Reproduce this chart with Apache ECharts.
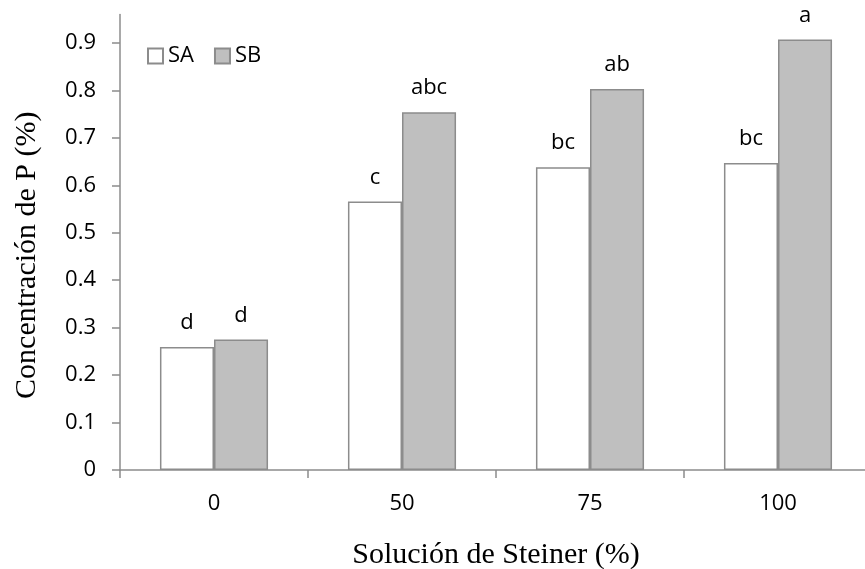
<!DOCTYPE html>
<html>
<head>
<meta charset="utf-8">
<script src="https://cdn.jsdelivr.net/npm/echarts@6/dist/echarts.min.js"></script>
<style>html,body{margin:0;padding:0;background:#fff;}#c{width:865px;height:569px;}</style>
</head>
<body>
<div id="c"></div>
<script>
const categories = ['0', '50', '75', '100'];
const saValues = [0.259, 0.566, 0.638, 0.647];
const sbValues = [0.275, 0.754, 0.803, 0.907];
const saLetters = ['d', 'c', 'bc', 'bc'];
const sbLetters = ['d', 'abc', 'ab', 'a'];
const yTicks = [0, 0.1, 0.2, 0.3, 0.4, 0.5, 0.6, 0.7, 0.8, 0.9];

const chart = echarts.init(document.getElementById('c'), null, {renderer: 'canvas'});
const axisColor = '#8c8c8c';
const labelFont = 'Open Sans';
const fs = 22;

function mk(name, vals, letters, fill) {
  return {
    name: name,
    type: 'bar',
    data: vals.map((v, i) => ({value: v, label: {formatter: letters[i]}})),
    barGap: '0%',
    barCategoryGap: '42.5%',
    itemStyle: {color: fill, borderColor: axisColor, borderWidth: 1.5},
    label: {show: true, position: 'top', distance: 13, color: '#000', fontSize: fs, fontFamily: labelFont},
    emphasis: {disabled: true},
    animation: false
  };
}

chart.setOption({
  animation: false,
  grid: {left: 120, top: 14.4, width: 752, bottom: 99, containLabel: false, outerBoundsMode: 'none'},
  legend: {
    left: 147, top: 45, padding: 0, itemWidth: 15, itemHeight: 15, itemGap: 20, icon: 'rect',
    textStyle: {fontSize: fs, fontFamily: labelFont, color: '#000'},
    data: ['SA', 'SB']
  },
  xAxis: {
    type: 'category',
    data: categories,
    name: 'Solución de Steiner (%)',
    nameLocation: 'middle',
    nameGap: 70,
    nameTextStyle: {fontFamily: 'Liberation Serif', fontSize: 30, color: '#000'},
    axisLine: {lineStyle: {color: axisColor, width: 1.5}},
    axisTick: {show: true, length: 8, inside: false, alignWithLabel: false, lineStyle: {color: axisColor, width: 1.5}},
    axisLabel: {margin: 23, fontSize: fs, fontFamily: labelFont, color: '#000'}
  },
  yAxis: {
    type: 'value',
    min: 0,
    max: 0.96,
    interval: 0.1,
    name: 'Concentración de P (%)',
    nameLocation: 'middle',
    nameGap: 78,
    nameTextStyle: {fontFamily: 'Liberation Serif', fontSize: 30, color: '#000', padding: [0, 26, 0, 0]},
    splitLine: {show: false},
    axisLine: {show: true, lineStyle: {color: axisColor, width: 1.5}},
    axisTick: {show: true, length: 8, customValues: yTicks, lineStyle: {color: axisColor, width: 1.5}},
    axisLabel: {margin: 24, fontSize: fs, fontFamily: labelFont, color: '#000', customValues: yTicks,
      formatter: v => (Math.round(v * 10) / 10).toString()}
  },
  series: [
    mk('SA', saValues, saLetters, '#ffffff'),
    mk('SB', sbValues, sbLetters, '#bfbfbf')
  ]
});
</script>
</body>
</html>
